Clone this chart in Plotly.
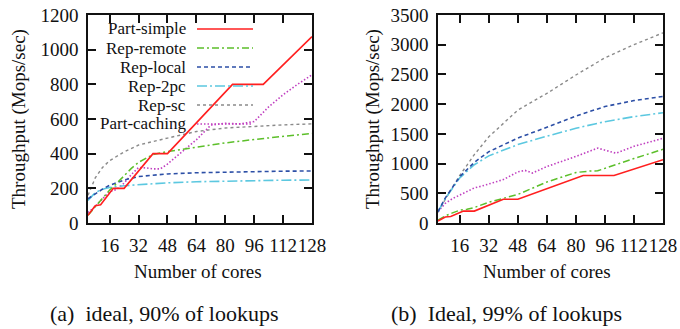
import plotly.graph_objects as go

# ---------------- data ----------------
series_names = ["Part-simple", "Rep-remote", "Rep-local", "Rep-2pc", "Rep-sc", "Part-caching"]

x_ticks = [16, 32, 48, 64, 80, 96, 112, 128]

# (a) ideal, 90% of lookups
a_simple_x = [4, 8, 11, 18, 24, 40, 48, 84, 101, 128]
a_simple_y = [45, 100, 105, 200, 200, 400, 400, 800, 800, 1075]
a_remote_x = [4, 8, 12, 16, 20, 24, 28, 32, 40, 48, 56, 64, 80, 96, 112, 128]
a_remote_y = [45, 95, 140, 190, 230, 275, 315, 350, 395, 412, 425, 437, 462, 482, 500, 517]
a_rep_x = [4, 8, 12, 16, 24, 32, 48, 64, 80, 96, 112, 128]
a_local_y = [140, 170, 195, 218, 248, 268, 283, 290, 294, 297, 299, 300]
a_2pc_y = [130, 175, 195, 205, 215, 222, 232, 238, 242, 245, 247, 248]
a_sc_y = [160, 260, 320, 360, 410, 450, 490, 528, 548, 558, 566, 572]
a_caching_x = [4, 8, 12, 16, 20, 24, 28, 32, 36, 40, 44, 48, 56, 64, 72, 80, 88, 96, 104, 112, 120, 128]
a_caching_y = [60, 95, 140, 180, 195, 230, 280, 320, 318, 312, 312, 340, 410, 480, 565, 575, 572, 585, 670, 740, 800, 855]

# (b) Ideal, 99% of lookups
b_simple_x = [4, 8, 11, 18, 24, 40, 48, 84, 101, 128]
b_simple_y = [35, 100, 110, 200, 200, 400, 400, 800, 800, 1065]
b_remote_x = [4, 8, 12, 16, 20, 24, 32, 40, 48, 64, 80, 88, 92, 112, 128]
b_remote_y = [50, 120, 170, 215, 230, 260, 350, 420, 480, 690, 850, 875, 878, 1085, 1240]
b_rep_x = [4, 8, 16, 24, 32, 48, 64, 80, 96, 112, 128]
b_local_y = [190, 420, 780, 1020, 1200, 1430, 1610, 1800, 1960, 2060, 2130]
b_2pc_y = [190, 410, 760, 980, 1130, 1320, 1460, 1595, 1705, 1790, 1855]
b_sc_y = [180, 400, 800, 1150, 1450, 1900, 2180, 2490, 2780, 3000, 3200]
b_caching_x = [4, 8, 12, 16, 20, 24, 28, 32, 40, 48, 52, 56, 64, 80, 92, 102, 112, 128]
b_caching_y = [190, 330, 410, 470, 520, 590, 620, 660, 730, 860, 885, 840, 950, 1120, 1260, 1175, 1290, 1425]

x_title = "Number of cores"
y_title = "Throughput (Mops/sec)"
captions = ["(a)\u2002ideal, 90% of lookups", "(b)\u2002Ideal, 99% of lookups"]

# ---------------- styles ----------------
colors = ["#ff1f1f", "#5cbf2a", "#2c4fa6", "#5cc8e0", "#8a8a8a", "#c040c0"]
dashes = ["solid", "7px,3px,2px,3px", "4px,3px", "10px,3px,2px,3px", "3px,3px", "1.5px,2px"]
widths = [1.6, 1.5, 1.6, 1.6, 1.4, 1.6]

SERIF = "Liberation Serif"
INK = "#111"

# The page body's default margin is removed by a post script, so the figure
# fills the 680x329 window from its top-left corner.
W, H = 680, 329


def px(x):
    return x / W


def py(y):
    return 1 - y / H


fig = go.Figure()

panel_a = [(a_simple_x, a_simple_y), (a_remote_x, a_remote_y), (a_rep_x, a_local_y),
           (a_rep_x, a_2pc_y), (a_rep_x, a_sc_y), (a_caching_x, a_caching_y)]
panel_b = [(b_simple_x, b_simple_y), (b_remote_x, b_remote_y), (b_rep_x, b_local_y),
           (b_rep_x, b_2pc_y), (b_rep_x, b_sc_y), (b_caching_x, b_caching_y)]

draw_order = [4, 5, 3, 2, 1, 0]
for axes, panel in (("x", "y"), panel_a), (("x2", "y2"), panel_b):
    for i in draw_order:
        xs, ys = panel[i]
        fig.add_trace(go.Scatter(
            x=xs, y=ys, mode="lines", name=series_names[i], showlegend=False,
            xaxis=axes[0], yaxis=axes[1], hoverinfo="skip",
            line=dict(color=colors[i], dash=dashes[i], width=widths[i]),
        ))

# plot areas (window pixels)
ax_l = (88, 312)
ax_r = (438, 663)
y_top, y_bot = 15, 223
ydom = [py(y_bot), py(y_top)]

common_axis = dict(
    showline=True, linecolor=INK, linewidth=1.5, mirror="ticks",
    ticks="inside", ticklen=8, tickwidth=1.5, tickcolor=INK,
    showgrid=False, zeroline=False, automargin=False,
    ticklabeloverflow="allow",
    tickfont=dict(family=SERIF, size=19, color=INK),
)

fig.update_layout(
    template="none",
    width=W, height=H,
    margin=dict(l=0, r=0, t=0, b=0),
    paper_bgcolor="white", plot_bgcolor="white",
    showlegend=False,
    xaxis=dict(domain=[px(ax_l[0]), px(ax_l[1])], anchor="y", range=[4, 128],
               tickvals=x_ticks, tickangle=0, ticklabelstandoff=4, **common_axis),
    yaxis=dict(domain=ydom, anchor="x", range=[0, 1200], dtick=200,
               ticklabelstandoff=4, **common_axis),
    xaxis2=dict(domain=[px(ax_r[0]), px(ax_r[1])], anchor="y2", range=[4, 128],
                tickvals=x_ticks, tickangle=0, ticklabelstandoff=4, **common_axis),
    yaxis2=dict(domain=ydom, anchor="x2", range=[0, 3500], dtick=500,
                ticklabelstandoff=4, **common_axis),
)

# axis titles
for cx in (198, 547):
    fig.add_annotation(x=px(cx), y=py(271), xref="paper", yref="paper", text=x_title,
                       showarrow=False, xanchor="center", yanchor="middle",
                       font=dict(family=SERIF, size=19, color=INK))
for cx in (19, 373):
    fig.add_annotation(x=px(cx), y=py(119), xref="paper", yref="paper", text=y_title,
                       showarrow=False, xanchor="center", yanchor="middle", textangle=-90,
                       font=dict(family=SERIF, size=19, color=INK))

# manual gnuplot-style legend inside the left panel (text right, sample line)
leg_rows = [29, 48, 67, 86, 105, 124]
for i, name in enumerate(series_names):
    yp = py(leg_rows[i])
    fig.add_annotation(x=px(187), y=yp, xref="paper", yref="paper", text=name,
                       showarrow=False, xanchor="right", yanchor="middle", borderpad=0,
                       font=dict(family=SERIF, size=17, color=INK))
    fig.add_shape(type="line", xref="paper", yref="paper", x0=px(197), x1=px(253), y0=yp, y1=yp,
                  line=dict(color=colors[i], dash=dashes[i], width=widths[i]))

for cx, txt in zip((164, 506), captions):
    fig.add_annotation(x=px(cx), y=py(313), xref="paper", yref="paper", text=txt,
                       showarrow=False, xanchor="center", yanchor="middle",
                       font=dict(family=SERIF, size=22, color=INK))

fig.write_html("out.html",
               config={"displayModeBar": False},
               post_script="document.body.style.margin='0';document.body.style.padding='0';")
